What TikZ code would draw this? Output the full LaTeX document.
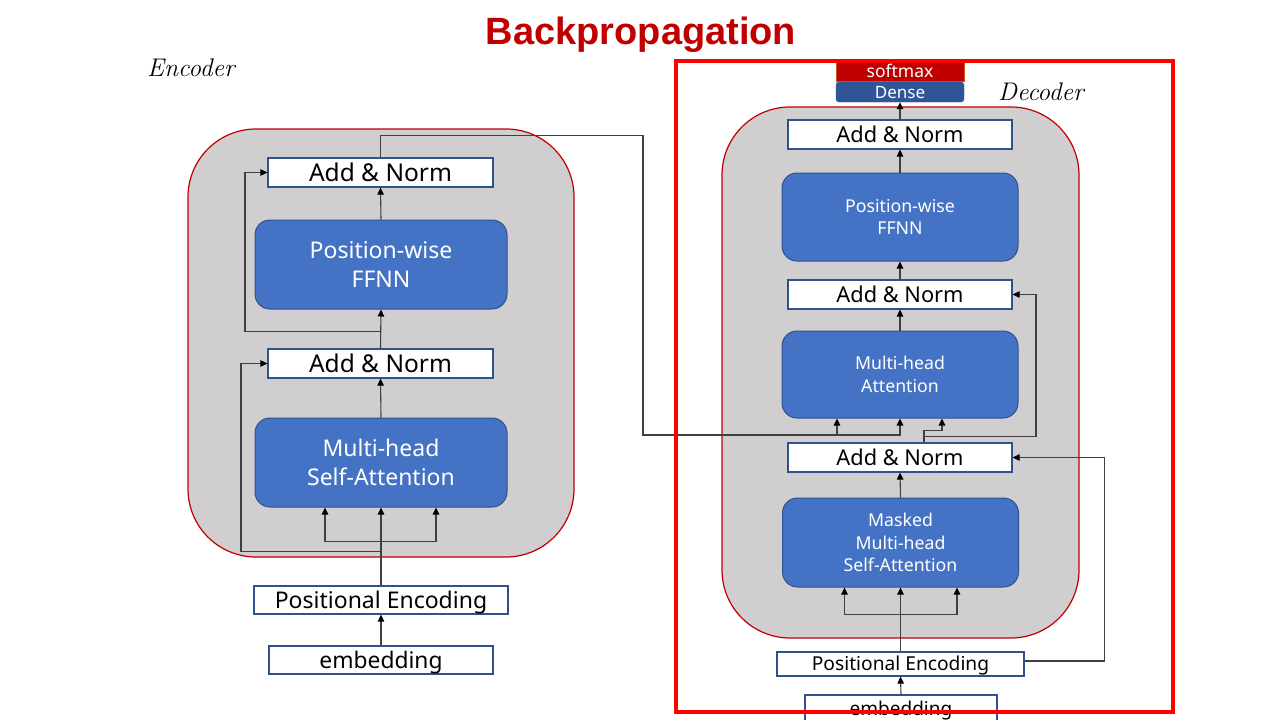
\documentclass[tikz,border=0pt]{standalone}
\usepackage{fontspec}
\setmainfont{Noto Sans}
\newfontfamily\titlefont{Liberation Sans}
\newfontfamily\labelfont{Latin Modern Roman}
\usetikzlibrary{arrows.meta,calc}
\definecolor{boxblue}{HTML}{4472C4}
\definecolor{boxedge}{HTML}{2F528F}
\definecolor{panelgray}{HTML}{D0CECE}
\definecolor{darkred}{HTML}{C00000}
\definecolor{denseblue}{HTML}{2F5597}
\definecolor{wire}{HTML}{404040}
\definecolor{framered}{HTML}{FF0000}
\definecolor{smedge}{HTML}{C55A11}
\newcommand\fEncAN{\fontsize{24.5}{28}\selectfont}
\newcommand\fEncBlk{\fontsize{23}{29}\selectfont}
\newcommand\fDecAN{\fontsize{21.8}{26}\selectfont}
\newcommand\fDecBlk{\fontsize{17.7}{22.5}\selectfont}
\begin{document}
\begin{tikzpicture}[x=1pt,y=-1pt,
  panel/.style={draw=darkred, line width=1.2pt, fill=panelgray, rounded corners=68pt, inner sep=0pt},
  addnorm/.style={draw=boxedge, line width=1.2pt, fill=white, inner sep=0pt, text=black},
  capcenter/.style={text height=#1, text depth=0pt},
  blockbox/.style={draw=boxedge, line width=1pt, fill=boxblue, rounded corners=15pt, inner sep=0pt, text=white, align=center},
  wireline/.style={draw=wire, line width=1.1pt},
  arr/.style={wireline, -{Triangle[length=7pt,width=6.5pt,color=black]}},
  sidelabel/.style={font=\labelfont\itshape\fontsize{25.5}{27}\selectfont, anchor=base west, inner sep=0pt}
]
\useasboundingbox (0,0) rectangle (1280,720);
\fill[white] (0,0) rectangle (1280,720);

% title and labels
\node[text=darkred, font=\titlefont\bfseries\fontsize{38}{40}\selectfont, anchor=base, inner sep=0pt] (title) at (641,44) {Backpropagation};
\node[sidelabel] (enclabel) at (147,76) {Encoder};
\node[sidelabel] (declabel) at (998,100) {Decoder};

% ---------------- Encoder ----------------
\node[panel, minimum width=386pt, minimum height=428pt] (encpanel) at (381,343) {};
\node[addnorm, capcenter=17.5pt, minimum width=225pt, minimum height=29pt, font=\fEncAN] (eAN2) at (380.5,172.5) {Add \& Norm};
\node[blockbox, minimum width=252pt, minimum height=89pt, font=\fEncBlk] (eFF) at (381,264.5) {Position-wise\\FFNN};
\node[addnorm, capcenter=17.5pt, minimum width=225pt, minimum height=29pt, font=\fEncAN] (eAN1) at (380.5,363.5) {Add \& Norm};
\node[blockbox, minimum width=252pt, minimum height=89pt, font=\fEncBlk] (eMH) at (381,462.5) {Multi-head\\Self-Attention};
\node[addnorm, capcenter=16.4pt, minimum width=254pt, minimum height=28pt, font=\fontsize{23}{26}\selectfont] (ePE) at (381,600) {Positional Encoding};
\node[addnorm, capcenter=16.3pt, minimum width=224pt, minimum height=28pt, font=\fontsize{22.8}{26}\selectfont] (eEmb) at (381,660) {embedding};

\coordinate (eSplit) at ($(eMH.south)+(0,34)$);
\coordinate (eRes1) at ($(eMH.south)+(0,44)$);
\coordinate (eRes2) at ($(eFF.south)+(0,22)$);

\draw[arr] (eEmb.north) -- (ePE.south);
\draw[arr] (ePE.north) -- (eMH.south);
\draw[wireline] ($(eSplit)+(-56,0)$) -- ($(eSplit)+(55,0)$);
\draw[arr] ($(eSplit)+(-56,0)$) -- ($(eMH.south)+(-56,0)$);
\draw[arr] ($(eSplit)+(55,0)$) -- ($(eMH.south)+(55,0)$);
\draw[arr] (eRes1) -- ++(-140,0) |- (eAN1.west);
\draw[arr] (eMH.north) -- (eAN1.south);
\draw[arr] (eAN1.north) -- (eFF.south);
\draw[arr] (eRes2) -- ++(-136,0) |- (eAN2.west);
\draw[arr] (eFF.north) -- (eAN2.south);

% ---------------- Decoder ----------------
\node[panel, minimum width=357pt, minimum height=531pt] (decpanel) at (900.5,372.5) {};
\node[draw=smedge, line width=0.8pt, fill=darkred, text=white, inner sep=0pt, capcenter=12.5pt, minimum width=128pt, minimum height=19pt, font=\fontsize{17.5}{19}\selectfont] (dSoft) at (900,71.5) {softmax};
\node[draw=denseblue, fill=denseblue, rounded corners=3pt, text=white, inner sep=0pt, capcenter=12.1pt, minimum width=128pt, minimum height=20pt, font=\fontsize{17}{19}\selectfont] (dDense) at (900,92) {Dense};
\node[addnorm, capcenter=15.6pt, minimum width=224pt, minimum height=29pt, font=\fDecAN] (dAN3) at (900,134.5) {Add \& Norm};
\node[blockbox, minimum width=236pt, minimum height=88pt, font=\fDecBlk] (dFF) at (900,217) {Position-wise\\FFNN};
\node[addnorm, capcenter=15.6pt, minimum width=224pt, minimum height=29pt, font=\fDecAN] (dAN2) at (900,294.5) {Add \& Norm};
\node[blockbox, minimum width=236pt, minimum height=87pt, font=\fDecBlk] (dMH) at (900,374.5) {Multi-head\\Attention};
\node[addnorm, capcenter=15.6pt, minimum width=224pt, minimum height=29pt, font=\fDecAN] (dAN1) at (900,457.5) {Add \& Norm};
\node[blockbox, minimum width=236pt, minimum height=89pt, font=\fDecBlk] (dMM) at (900.5,542.5) {Masked\\Multi-head\\Self-Attention};
\node[addnorm, capcenter=13.7pt, minimum width=247pt, minimum height=24pt, font=\fontsize{19.2}{22}\selectfont] (dPE) at (900.5,664) {Positional Encoding};
\node[addnorm, capcenter=13.6pt, minimum width=192pt, minimum height=28pt, font=\fontsize{19}{22}\selectfont] (dEmb) at (901,709) {embedding};

\coordinate (dSplit) at ($(dMM.south)+(0,27)$);
\coordinate (dUp) at ($(dAN1.north)+(24,0)$);
\coordinate (dRes) at ($(dAN1.north)+(24,-6)$);
\coordinate (xTop) at ($(eAN2.north)+(0,-22)$);
\coordinate (xLow) at (643,435);
\coordinate (kv) at (837,435);

\draw[arr] (dEmb.north) -- (dPE.south);
\draw[arr] (dPE.north) -- (dMM.south);
\draw[wireline] ($(dSplit)+(-56,0)$) -- ($(dSplit)+(56.5,0)$);
\draw[arr] ($(dSplit)+(-56,0)$) -- ($(dMM.south)+(-56,0)$);
\draw[arr] ($(dSplit)+(56.5,0)$) -- ($(dMM.south)+(56.5,0)$);
\draw[arr] ($(dPE.east)+(0,-3)$) -- ++(80,0) |- (dAN1.east);
\draw[arr] (dMM.north) -- (dAN1.south);
\draw[arr] (dUp) -- ++(0,-12) -| ($(dMH.south)+(42,0)$);
\draw[arr] (dRes) -- ++(112,0) |- (dAN2.east);
\draw[arr] (eAN2.north) -- (xTop) -| (xLow) -| (dMH.south);
\draw[arr] (kv) -- (kv |- dMH.south);
\draw[arr] (dMH.north) -- (dAN2.south);
\draw[arr] (dAN2.north) -- (dFF.south);
\draw[arr] (dFF.north) -- (dAN3.south);
\draw[arr] (dAN3.north) -- (dDense.south);

% focus frame
\node[draw=framered, line width=4pt, inner sep=0pt, minimum width=497pt, minimum height=651pt] (focus) at (924.5,386.5) {};
\end{tikzpicture}
\end{document}
